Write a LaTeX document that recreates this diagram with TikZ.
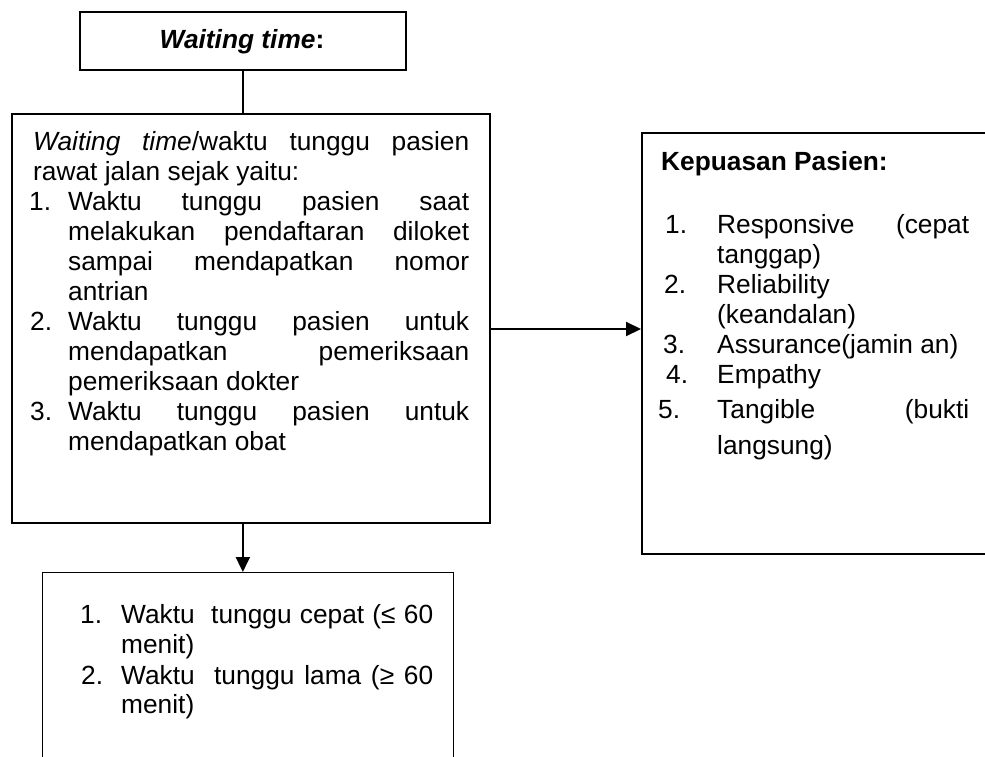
\documentclass[tikz,border=0pt]{standalone}
\usepackage{fontspec}
\setmainfont{Liberation Sans}
\usetikzlibrary{arrows.meta}
\begin{document}
\begin{tikzpicture}[x=1pt,y=-1pt,
  box/.style={draw, inner sep=0, anchor=north west},
  txt/.style={anchor=base west, inner sep=0, font=\fontsize{26.3}{30}\selectfont},
  conn/.style={line width=2pt},
  arr/.style={line width=2pt, -{Triangle[length=15pt,width=14pt]}}]
\clip (0,0) rectangle (985,756);
% boxes
\node[box, line width=1.7pt, minimum width=326pt, minimum height=58pt] (top) at (79,11) {};
\node[box, line width=2.3pt, minimum width=478pt, minimum height=409pt] (main) at (11,113) {};
\node[box, line width=2.3pt, minimum width=400pt, minimum height=421pt] (right) at (641,132) {};
\node[box, line width=1.4pt, minimum width=411pt, minimum height=220pt] (bot) at (42,572) {};
% top label
\node[anchor=base, inner sep=0, font=\fontsize{26.3}{30}\selectfont\bfseries] (tt) at (242,48) {\textit{Waiting time}:};
% connectors
\draw[conn] (top.south) -- (top.south |- main.north);
\draw[arr] (top.south |- main.south) -- (top.south |- bot.north);
\coordinate (ra) at (489,329);
\draw[arr] (main.east |- ra) -- (right.west |- ra);
% main box text
\node[txt] (m1) at (33,150) {\makebox[436pt][s]{\textit{Waiting time}/waktu tunggu pasien}};
\node[txt] (m2) at (33,180) {rawat jalan sejak yaitu:};
\node[txt] (n1) at (29,210) {1.};
\node[txt] (m3) at (68,210) {\makebox[401pt][s]{Waktu tunggu pasien saat}};
\node[txt] (m4) at (68,240) {\makebox[401pt][s]{melakukan pendaftaran diloket}};
\node[txt] (m5) at (68,270) {\makebox[401pt][s]{sampai mendapatkan nomor}};
\node[txt] (m6) at (68,300) {antrian};
\node[txt] (n2) at (30,330) {2.};
\node[txt] (m7) at (68,330) {\makebox[401pt][s]{Waktu tunggu pasien untuk}};
\node[txt] (m8) at (68,360) {\makebox[401pt][s]{mendapatkan pemeriksaan}};
\node[txt] (m9) at (68,390) {pemeriksaan dokter};
\node[txt] (n3) at (30,420) {3.};
\node[txt] (m10) at (68,420) {\makebox[401pt][s]{Waktu tunggu pasien untuk}};
\node[txt] (m11) at (68,450) {mendapatkan obat};
% right box text
\node[txt, font=\fontsize{26.3}{30}\selectfont\bfseries] (k0) at (661,170) {Kepuasan Pasien:};
\node[txt] (k1n) at (665,233) {1.};
\node[txt] (k1) at (717,233) {\makebox[252pt][s]{Responsive (cepat}};
\node[txt] (k1b) at (717,263) {tanggap)};
\node[txt] (k2n) at (664,293) {2.};
\node[txt] (k2) at (717,293) {Reliability};
\node[txt] (k2b) at (717,323) {(keandalan)};
\node[txt] (k3n) at (663,353) {3.};
\node[txt] (k3) at (717,353) {Assurance(jamin an)};
\node[txt] (k4n) at (666,383) {4.};
\node[txt] (k4) at (717,383) {Empathy};
\node[txt] (k5n) at (658,418) {5.};
\node[txt] (k5) at (717,418) {\makebox[252pt][s]{Tangible (bukti}};
\node[txt] (k5b) at (717,454) {langsung)};
% bottom box text
\node[txt] (b1n) at (80,623) {1.};
\node[txt] (b1) at (121,623) {\makebox[312pt][s]{Waktu\ \ tunggu cepat (≤ 60}};
\node[txt] (b1b) at (121,653) {menit)};
\node[txt] (b2n) at (81,684) {2.};
\node[txt] (b2) at (121,684) {\makebox[312pt][s]{Waktu\ \ tunggu lama (≥ 60}};
\node[txt] (b2b) at (121,713) {menit)};
\end{tikzpicture}
\end{document}
